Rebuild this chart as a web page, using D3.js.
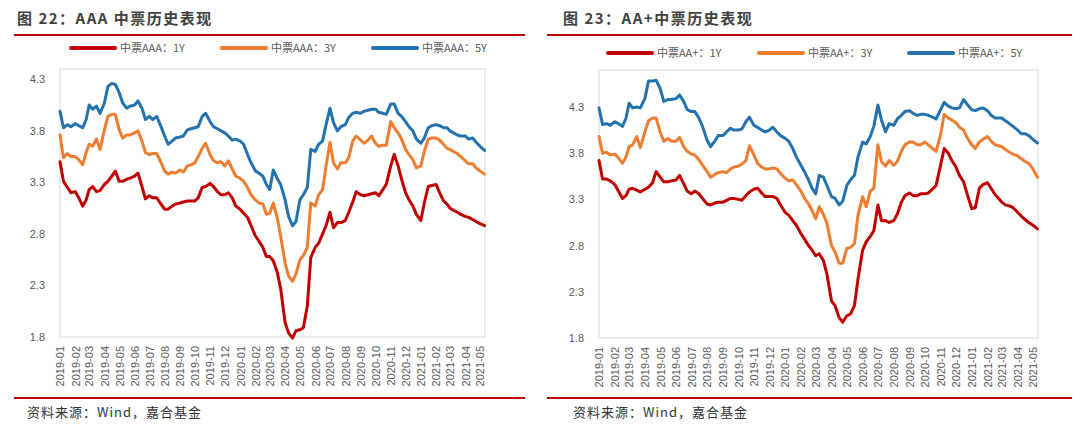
<!DOCTYPE html>
<html><head><meta charset="utf-8">
<script src="https://cdn.jsdelivr.net/npm/d3@7"></script>
<style>body{margin:0;background:#fff}svg{display:block}</style>
</head><body>
<svg id="chart" width="1080" height="426"></svg>
<script>
const dates = [
"2019-01-01","2019-01-08","2019-01-16","2019-01-23","2019-02-01","2019-02-08","2019-02-16","2019-02-23",
"2019-03-01","2019-03-08","2019-03-16","2019-03-23","2019-04-01","2019-04-08","2019-04-16","2019-04-23",
"2019-05-01","2019-05-08","2019-05-16","2019-05-23","2019-06-01","2019-06-08","2019-06-16","2019-06-23",
"2019-07-01","2019-07-08","2019-07-16","2019-07-23","2019-08-01","2019-08-08","2019-08-16","2019-08-23",
"2019-09-01","2019-09-08","2019-09-16","2019-09-23","2019-10-01","2019-10-08","2019-10-16","2019-10-23",
"2019-11-01","2019-11-08","2019-11-16","2019-11-23","2019-12-01","2019-12-08","2019-12-16","2019-12-23",
"2020-01-01","2020-01-08","2020-01-16","2020-01-23","2020-02-01","2020-02-08","2020-02-16","2020-02-23",
"2020-03-01","2020-03-08","2020-03-16","2020-03-23","2020-04-01","2020-04-08","2020-04-16","2020-04-23",
"2020-05-01","2020-05-08","2020-05-16","2020-05-23","2020-06-01","2020-06-08","2020-06-16","2020-06-23",
"2020-07-01","2020-07-08","2020-07-16","2020-07-23","2020-08-01","2020-08-08","2020-08-16","2020-08-23",
"2020-09-01","2020-09-08","2020-09-16","2020-09-23","2020-10-01","2020-10-08","2020-10-16","2020-10-23",
"2020-11-01","2020-11-08","2020-11-16","2020-11-23","2020-12-01","2020-12-08","2020-12-16","2020-12-23",
"2021-01-01","2021-01-08","2021-01-16","2021-01-23","2021-02-01","2021-02-08","2021-02-16","2021-02-23",
"2021-03-01","2021-03-08","2021-03-16","2021-03-23","2021-04-01","2021-04-08","2021-04-16","2021-04-23",
"2021-05-01","2021-05-10"];

const monthLabels = ["2019-01","2019-02","2019-03","2019-04","2019-05","2019-06","2019-07","2019-08","2019-09","2019-10","2019-11","2019-12",
"2020-01","2020-02","2020-03","2020-04","2020-05","2020-06","2020-07","2020-08","2020-09","2020-10","2020-11","2020-12",
"2021-01","2021-02","2021-03","2021-04","2021-05"];

const yTicks = [1.8, 2.3, 2.8, 3.3, 3.8, 4.3];

// 中票AAA
const aaa1Y = [3.50,3.31,3.25,3.20, 3.21,3.15,3.07,3.13, 3.23,3.26,3.21,3.22, 3.28,3.31,3.36,3.41,
3.31,3.31,3.33,3.34, 3.36,3.39,3.26,3.14, 3.17,3.15,3.15,3.10, 3.04,3.04,3.07,3.09,
3.10,3.11,3.12,3.12, 3.12,3.15,3.25,3.26, 3.29,3.26,3.21,3.18, 3.18,3.20,3.15,3.07,
3.04,3.00,2.96,2.88, 2.78,2.73,2.67,2.58, 2.58,2.54,2.43,2.27, 1.94,1.84,1.79,1.86,
1.87,1.89,2.10,2.57, 2.67,2.71,2.80,2.88, 3.01,2.86,2.91,2.91, 2.93,3.01,3.11,3.21,
3.18,3.17,3.18,3.19, 3.20,3.17,3.23,3.28, 3.46,3.57,3.46,3.33, 3.20,3.13,3.07,2.99,
2.93,3.10,3.26,3.27, 3.28,3.20,3.12,3.09, 3.05,3.03,3.01,2.99, 2.97,2.96,2.94,2.92,
2.90,2.88];
const aaa3Y = [3.76,3.54,3.58,3.55, 3.55,3.52,3.47,3.59, 3.67,3.65,3.72,3.62, 3.81,3.94,3.96,3.96,
3.81,3.73,3.76,3.76, 3.78,3.80,3.70,3.59, 3.57,3.58,3.58,3.51, 3.41,3.38,3.40,3.39,
3.42,3.40,3.46,3.47, 3.49,3.55,3.63,3.68, 3.57,3.51,3.49,3.50, 3.46,3.51,3.43,3.36,
3.34,3.31,3.25,3.18, 3.13,3.10,3.09,2.99, 3.00,3.10,2.96,2.78, 2.52,2.39,2.34,2.41,
2.55,2.59,2.67,3.10, 3.07,3.18,3.23,3.46, 3.69,3.49,3.43,3.49, 3.49,3.54,3.70,3.75,
3.71,3.68,3.71,3.75, 3.68,3.65,3.66,3.66, 3.89,3.83,3.78,3.72, 3.62,3.57,3.52,3.44,
3.46,3.60,3.72,3.73, 3.73,3.71,3.67,3.63, 3.62,3.60,3.58,3.55, 3.51,3.48,3.48,3.44,
3.41,3.38];
const aaa5Y = [3.99,3.83,3.86,3.84, 3.87,3.85,3.83,3.91, 4.05,4.01,4.04,3.97, 4.07,4.23,4.26,4.25,
4.17,4.07,4.02,4.04, 4.05,4.09,4.02,3.91, 3.94,3.91,3.94,3.86, 3.75,3.67,3.70,3.73,
3.74,3.75,3.81,3.82, 3.83,3.84,3.94,3.97, 3.89,3.84,3.82,3.80, 3.78,3.75,3.71,3.72,
3.70,3.67,3.57,3.49, 3.41,3.39,3.36,3.28, 3.23,3.42,3.34,3.28, 3.13,2.97,2.88,2.92,
3.13,3.18,3.25,3.62, 3.60,3.67,3.70,3.86, 4.02,3.88,3.80,3.84, 3.86,3.93,3.97,3.98,
3.97,3.99,4.00,4.01, 4.01,3.98,3.97,3.96, 4.06,4.06,3.97,3.94, 3.89,3.84,3.80,3.72,
3.68,3.73,3.83,3.85, 3.86,3.85,3.83,3.83, 3.80,3.78,3.76,3.75, 3.75,3.72,3.73,3.69,
3.65,3.61];

// 中票AA+
const aap1Y = [3.72,3.52,3.52,3.50, 3.46,3.39,3.31,3.34, 3.41,3.42,3.40,3.38, 3.41,3.43,3.48,3.60,
3.54,3.49,3.49,3.50, 3.51,3.56,3.47,3.39, 3.36,3.39,3.36,3.31, 3.25,3.24,3.26,3.27,
3.27,3.29,3.31,3.31, 3.30,3.29,3.34,3.38, 3.41,3.42,3.37,3.33, 3.33,3.33,3.31,3.24,
3.16,3.13,3.07,3.02, 2.93,2.87,2.80,2.75, 2.69,2.71,2.64,2.49, 2.20,2.15,2.02,1.97,
2.04,2.06,2.15,2.44, 2.75,2.84,2.90,2.96, 3.24,3.07,3.07,3.05, 3.07,3.14,3.27,3.34,
3.37,3.34,3.34,3.36, 3.36,3.37,3.41,3.45, 3.67,3.85,3.80,3.72, 3.65,3.56,3.49,3.36,
3.20,3.21,3.42,3.46, 3.48,3.42,3.35,3.31, 3.27,3.24,3.23,3.21, 3.16,3.12,3.08,3.05,
3.02,2.98];
const aap3Y = [3.98,3.80,3.81,3.78, 3.79,3.75,3.69,3.76, 3.87,3.89,3.98,3.86, 4.03,4.15,4.18,4.18,
4.03,3.93,3.96,3.93, 3.93,3.97,3.87,3.82, 3.79,3.78,3.73,3.67, 3.60,3.54,3.57,3.59,
3.60,3.59,3.63,3.65, 3.66,3.68,3.72,3.88, 3.78,3.69,3.65,3.63, 3.63,3.64,3.63,3.58,
3.53,3.50,3.51,3.46, 3.39,3.31,3.25,3.18, 3.09,3.22,3.14,3.04, 2.80,2.73,2.61,2.61,
2.77,2.78,2.82,3.13, 3.33,3.22,3.39,3.42, 3.89,3.71,3.66,3.72, 3.67,3.71,3.82,3.89,
3.92,3.92,3.89,3.89, 3.92,3.89,3.85,3.82, 4.00,4.22,4.18,4.16, 4.13,4.08,4.05,3.97,
3.89,3.85,3.92,3.95, 3.98,3.93,3.89,3.88, 3.87,3.84,3.81,3.79, 3.77,3.74,3.71,3.69,
3.63,3.54];
const aap5Y = [4.29,4.11,4.12,4.10, 4.14,4.12,4.09,4.18, 4.34,4.29,4.30,4.29, 4.39,4.58,4.58,4.59,
4.50,4.36,4.38,4.38, 4.39,4.43,4.36,4.27, 4.25,4.25,4.18,4.09, 3.94,3.87,3.93,3.99,
3.99,4.03,4.07,4.05, 4.05,4.06,4.14,4.19, 4.10,4.08,4.05,4.03, 4.05,4.08,4.03,3.99,
3.96,3.93,3.85,3.76, 3.67,3.60,3.51,3.42, 3.36,3.56,3.54,3.45, 3.33,3.31,3.24,3.28,
3.45,3.51,3.56,3.76, 3.92,3.90,3.98,4.09, 4.32,4.16,4.03,4.12, 4.10,4.17,4.21,4.25,
4.26,4.23,4.21,4.22, 4.22,4.21,4.19,4.17, 4.27,4.35,4.31,4.29, 4.28,4.29,4.38,4.33,
4.27,4.26,4.28,4.29, 4.26,4.21,4.18,4.18, 4.18,4.15,4.12,4.09, 4.05,4.01,4.01,3.99,
3.95,3.91];

const namesAAA = ["中票AAA：1Y","中票AAA：3Y","中票AAA：5Y"];
const namesAAP = ["中票AA+：1Y","中票AA+：3Y","中票AA+：5Y"];
const titles = ["图 22：AAA 中票历史表现","图 23：AA+中票历史表现"];
const sourceText = "资料来源：Wind，嘉合基金";
const colors = ["#C00000","#ED7D31","#2372AE"];

const parseDay = d3.timeParse("%Y-%m-%d");
const parseMonth = d3.timeParse("%Y-%m");
const svg = d3.select("#chart");
const FONT = "'Liberation Sans', Arial, 'Noto Sans CJK SC', sans-serif";
const CJK = "'Noto Sans CJK SC', sans-serif";

const panels = [
  {series:[aaa1Y,aaa3Y,aaa5Y], names:namesAAA, title:titles[0], left:60, right:485, top:69, bottom:337, yMax:4.4,
   ruleX0:14, ruleX1:525, textX:17, legendY:48, legendX:[71,222,373]},
  {series:[aap1Y,aap3Y,aap5Y], names:namesAAP, title:titles[1], left:599, right:1038, top:70, bottom:338, yMax:4.7,
   ruleX0:547, ruleX1:1072, textX:563, legendY:53, legendX:[608,759,909]}
];

const xDomain = [parseDay("2019-01-01"), parseDay("2021-05-11")];

panels.forEach(p => {
  const g = svg.append("g");
  // title
  g.append("text").attr("x", p.textX).attr("y", 24).text(p.title)
    .attr("font-family", CJK).attr("font-weight", "bold").attr("font-size", 15)
    .attr("letter-spacing", "1.5px").attr("fill", "#404040");
  g.append("line").attr("x1", p.ruleX0).attr("x2", p.ruleX1).attr("y1", 35).attr("y2", 35)
    .attr("stroke", "#C00000").attr("stroke-width", 2);
  // footer
  g.append("line").attr("x1", p.ruleX0).attr("x2", p.ruleX1).attr("y1", 398).attr("y2", 398)
    .attr("stroke", "#C00000").attr("stroke-width", 2);
  g.append("text").attr("x", p.textX + 10).attr("y", 417).text(sourceText)
    .attr("font-family", CJK).attr("font-size", 13).attr("letter-spacing", "1px").attr("fill", "#333");

  const x = d3.scaleTime().domain(xDomain).range([p.left, p.right]);
  const y = d3.scaleLinear().domain([1.8, p.yMax]).range([p.bottom, p.top]);

  // plot border
  g.append("rect").attr("x", p.left).attr("y", p.top).attr("width", p.right - p.left).attr("height", p.bottom - p.top)
    .attr("fill", "none").attr("stroke", "#D9D9D9").attr("stroke-width", 1);

  // y axis
  const ya = g.append("g").attr("transform", `translate(${p.left},0)`)
    .call(d3.axisLeft(y).tickValues(yTicks).tickSize(0).tickPadding(15).tickFormat(d3.format(".1f")));
  ya.select(".domain").remove();
  ya.selectAll("text").attr("font-family", FONT).attr("font-size", 11).attr("fill", "#595959");

  // x axis
  const xa = g.append("g").attr("transform", `translate(0,${p.bottom})`)
    .call(d3.axisBottom(x).tickValues(monthLabels.map(parseMonth)).tickSize(0).tickFormat(d3.timeFormat("%Y-%m")));
  xa.select(".domain").remove();
  xa.selectAll("text").attr("font-family", FONT).attr("font-size", 11).attr("fill", "#595959")
    .attr("text-anchor", "end").attr("transform", "rotate(-90)").attr("x", -9).attr("y", 0).attr("dy", "0.35em");

  // lines
  const line = d3.line().x((d, i) => x(parseDay(dates[i]))).y(d => y(d));
  p.series.forEach((s, k) => {
    g.append("path").datum(s).attr("d", line).attr("fill", "none")
      .attr("stroke", colors[k]).attr("stroke-width", 3).attr("stroke-linejoin", "round").attr("stroke-linecap", "round");
  });

  // legend
  p.names.forEach((n, k) => {
    const lx = p.legendX[k];
    g.append("line").attr("x1", lx).attr("x2", lx + 44).attr("y1", p.legendY).attr("y2", p.legendY)
      .attr("stroke", colors[k]).attr("stroke-width", 4).attr("stroke-linecap", "round");
    g.append("text").attr("x", lx + 49).attr("y", p.legendY).attr("dy", "0.35em").text(n)
      .attr("font-family", CJK).attr("font-size", 11).attr("fill", "#595959");
  });
});
</script>
</body></html>
